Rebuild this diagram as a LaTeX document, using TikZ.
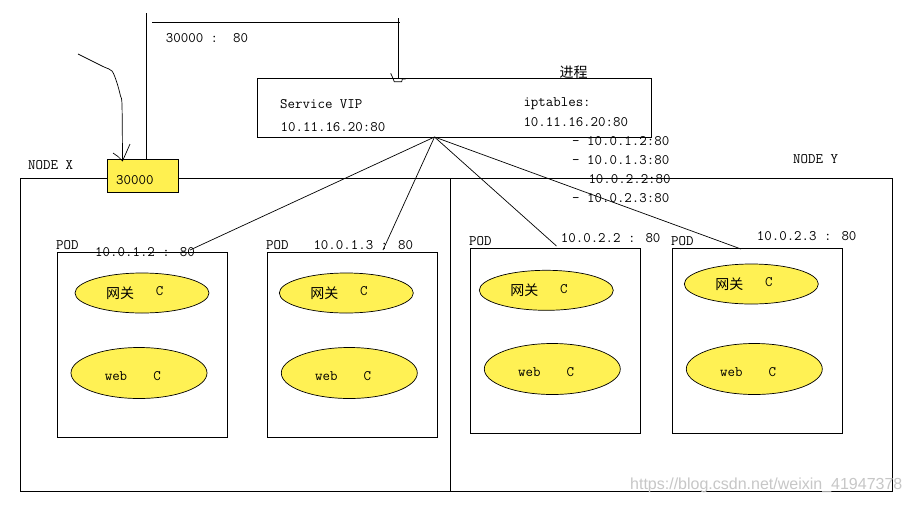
\documentclass[tikz,border=0pt]{standalone}
\usepackage{fontspec}
\usetikzlibrary{shapes.geometric}
\newfontfamily\cjk{Noto Sans CJK SC}
\newfontfamily\wmfont{Liberation Sans}
\definecolor{podyellow}{RGB}{255,241,84}
\definecolor{portyellow}{RGB}{255,240,80}
\begin{document}
\begin{tikzpicture}[x=1pt,y=-1pt,
  txt/.style={font=\ttfamily\fontsize{14.5}{15}\selectfont, inner sep=0pt, anchor=west},
  txtc/.style={font=\ttfamily\fontsize{14.5}{15}\selectfont, inner sep=0pt, anchor=center},
  cn/.style={font=\cjk\fontsize{14}{15}\selectfont, inner sep=0pt, anchor=center},
  cnw/.style={font=\cjk\fontsize{14}{15}\selectfont, inner sep=0pt, anchor=west},
  frame/.style={draw=black, line width=0.9pt, inner sep=0pt, anchor=north west},
  ell/.style={ellipse, draw=black, fill=podyellow, line width=0.7pt, inner sep=0pt},
  wire/.style={line width=0.7pt}]
\useasboundingbox[fill=white] (0,0) rectangle (911,504);

% node frames
\node[frame, minimum width=430pt, minimum height=313pt] (nodex) at (20,178) {};
\node[frame, minimum width=442pt, minimum height=313pt] (nodey) at (450,178) {};
\node[txt] (nxl) at (28,165) {NODE X};
\node[txt] (nyl) at (793,159) {NODE Y};

% port box
\node[draw=black, fill=portyellow, line width=0.9pt, inner sep=0pt,
      minimum width=71pt, minimum height=33pt] (port) at (142.5,175.5) {};
\node[txt] (portl) at (116,180) {30000};

% service box
\node[frame, minimum width=394pt, minimum height=59pt] (vip) at (257,78) {};
\node[txt] (svip) at (280,104.3) {Service VIP};
\node[txt] (sip) at (280.5,126.7) {10.11.16.20:80};
\node[txt] (ipt) at (523.3,103.3) {iptables:};
\node[txt] (ipt2) at (523.3,122.3) {10.11.16.20:80};
\node[cnw] (proc) at (559.3,72.7) {进程};
\node[txt] (r1) at (572,141) {- 10.0.1.2:80};
\node[txt] (r2) at (572,160.5) {- 10.0.1.3:80};
\node[txt] (r3) at (588.3,179) {10.0.2.2:80};
\node[txt] (r4) at (572,198.3) {- 10.0.2.3:80};

% top routing lines
\coordinate (up) at (146,13);
\draw[wire] (port.north -| up) -- (up);
\coordinate (hl) at (152,22);
\coordinate (hr) at (399.5,22);
\draw[wire] (hl) -- (hr);
\node[txt] (map) at (165.7,38.3) {30000 :\ \ 80};
\coordinate (vt) at (398,18);
\draw[wire] (vt) -- (vt |- vip.north);
\draw[wire] (390.7,73.3) -- (392.7,77.7) -- (394.3,81.7) -- (401.7,81.7) -- (402.3,79) -- (405.7,79);

% hand drawn incoming arrow
\coordinate (tip) at (122.5,161);
\draw[wire] plot[smooth] coordinates {(78,54) (103,66.5) (112,71) (117,83) (120.5,96) (122,105) (122.5,161)};
\draw[wire] (113,153) -- (118,156.5) -- (tip);
\draw[wire] (130,144) -- (126.5,152) -- (tip);

% pods
\node[frame, minimum width=170pt, minimum height=185pt] (pod1) at (57,252) {};
\node[frame, minimum width=170pt, minimum height=185pt] (pod2) at (267,252) {};
\node[frame, minimum width=170pt, minimum height=185pt] (pod3) at (470,248) {};
\node[frame, minimum width=170pt, minimum height=185pt] (pod4) at (672,248) {};

\node[txt] (pl1) at (56,245) {POD};
\node[txt] (pl2) at (266,245) {POD};
\node[txt] (pl3) at (469,241) {POD};
\node[txt] (pl4) at (671,241) {POD};

\node[txt] (a1) at (95,251.7) {10.0.1.2 : 80};
\node[txt] (a2) at (313.3,245) {10.0.1.3 : 80};
\node[txt] (a3) at (560.7,238.3) {10.0.2.2 : 80};
\node[txt] (a4) at (756.7,236) {10.0.2.3 : 80};

% connectors from the service to the pods
\coordinate (vipb) at (434.5,137);
\coordinate (t1) at (190,250);
\coordinate (t2) at (383,250);
\coordinate (t3) at (556.5,246);
\coordinate (t4) at (741,249);
\draw[wire] (vipb) -- (t1);
\draw[wire] (vipb) -- (t2);
\draw[wire] (vipb) -- (t3);
\draw[wire] (vipb) -- (t4);

% containers
\foreach \n/\ax/\ay/\bx/\by in {1/142/293/139/373, 2/346.3/293/349.3/373, 3/546.3/290.3/552.3/369, 4/751.3/284/754.3/369}{
  \node[ell, minimum width=134pt, minimum height=40pt] (g\n) at (\ax,\ay) {};
  \node[cn] (gl\n) at ([xshift=-22pt]g\n.center) {网关};
  \node[txtc] (gc\n) at ([xshift=17.5pt,yshift=1.5pt]g\n.center) {C};
  \node[ell, minimum width=136pt, minimum height=51pt] (w\n) at (\bx,\by) {};
  \node[txtc] (wl\n) at ([xshift=-23pt,yshift=-3pt]w\n.center) {web};
  \node[txtc] (wc\n) at ([xshift=18pt,yshift=-3pt]w\n.center) {C};
}

% watermark
\node[font=\wmfont\fontsize{16}{16}\selectfont, text=black!22, inner sep=0pt, anchor=west] (wm) at (630,485) {https://blog.csdn.net/weixin\_41947378};
\end{tikzpicture}
\end{document}
